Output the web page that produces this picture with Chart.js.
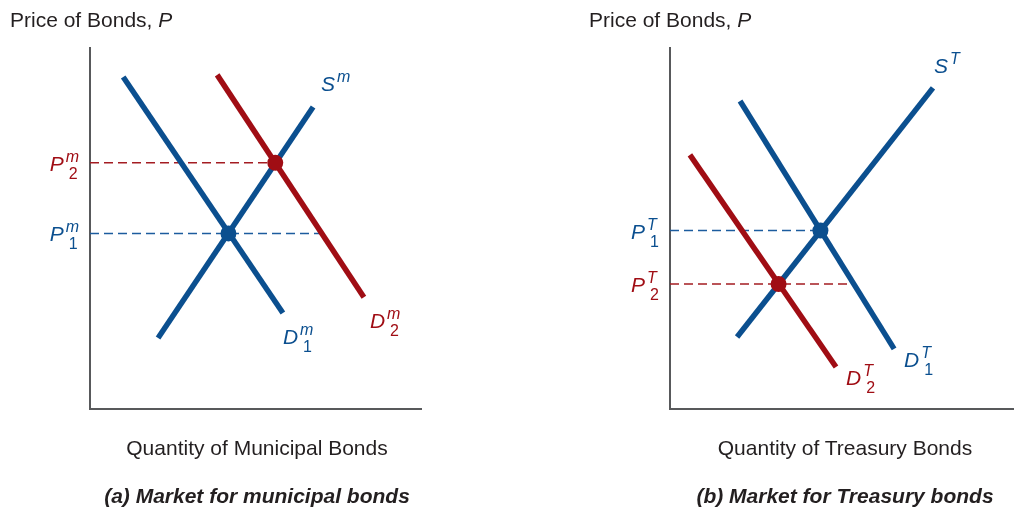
<!DOCTYPE html>
<html>
<head>
<meta charset="utf-8">
<script src="https://cdn.jsdelivr.net/npm/chart.js@4.4.1/dist/chart.umd.min.js"></script>
<style>
  html, body { margin: 0; padding: 0; background: #fff; }
  body { width: 1014px; height: 511px; position: relative; overflow: hidden;
         font-family: "Liberation Sans", Arial, sans-serif; color: #231f20; }
  canvas { position: absolute; top: 0; }
  .txt { position: absolute; font-size: 21px; line-height: 21px; white-space: nowrap; }
  .ctr { transform: translateX(-50%); }
  .cap { font-weight: bold; font-style: italic; }
</style>
</head>
<body>
<canvas id="graficoMuni" width="507" height="511" style="left:0"></canvas>
<canvas id="graficoTreas" width="507" height="511" style="left:507px"></canvas>

<div class="txt" style="left:10px; top:9px">Price of Bonds, <i>P</i></div>
<div class="txt" style="left:589px; top:9px">Price of Bonds, <i>P</i></div>
<div class="txt ctr" style="left:257px; top:437px">Quantity of Municipal Bonds</div>
<div class="txt ctr" style="left:845px; top:437px">Quantity of Treasury Bonds</div>
<div class="txt ctr cap" style="left:257px; top:485px">(a) Market for municipal bonds</div>
<div class="txt ctr cap" style="left:845px; top:485px">(b) Market for Treasury bonds</div>

<script>
// -------------------------
// Dados (quantidade q, preço p)
// -------------------------
// (a) Municipal
const muniD1Q = [1.0, 5.81];
const muniD1P = [9.17, 2.65];
const muniD2Q = [3.83, 8.25];
const muniD2P = [9.23, 3.09];
const muniSQ = [2.05, 6.72];
const muniSP = [1.96, 8.34];
const muniEqQ = [4.17, 5.58];      // ponto 1 (azul), ponto 2 (vermelho)
const muniEqP = [4.85, 6.80];
const muniDashEndQ = [6.95, 5.58]; // até onde vai a linha tracejada

// (b) Treasury
const treasD1Q = [2.11, 6.75];
const treasD1P = [8.51, 1.66];
const treasD2Q = [0.60, 5.00];
const treasD2P = [7.02, 1.16];
const treasSQ = [2.02, 7.92];
const treasSP = [1.99, 8.87];
const treasEqQ = [4.53, 3.27];
const treasEqP = [4.93, 3.45];
const treasDashEndQ = [4.53, 5.52];

const AZUL = "#0b4f8f";
const VERMELHO = "#a00d14";
const AZUL_TRAC = "#1c5c9e";
const VERMELHO_TRAC = "#a41c22";
const FONTE = '"Liberation Sans", Arial, sans-serif';

function juntar(qs, ps) {
  return qs.map((q, i) => ({ x: q, y: ps[i] }));
}

// -------------------------
// Rótulos tipo P^m_1 desenhados no canvas
// -------------------------
function desenharSimbolo(ctx, x, y, base, sup, sub, cor) {
  ctx.save();
  ctx.fillStyle = cor;
  ctx.textBaseline = "alphabetic";
  ctx.textAlign = "left";
  ctx.font = "italic 21px " + FONTE;
  ctx.fillText(base, x, y);
  const w = ctx.measureText(base).width;
  if (sup) {
    ctx.font = "italic 16px " + FONTE;
    ctx.fillText(sup, x + w + 2, y - 9);
  }
  if (sub) {
    ctx.font = "16px " + FONTE;
    ctx.fillText(sub, x + w + 5, y + 8);
  }
  ctx.restore();
}

function larguraSimbolo(ctx, base, sup, sub) {
  ctx.save();
  ctx.font = "italic 21px " + FONTE;
  const w = ctx.measureText(base).width;
  ctx.font = "italic 16px " + FONTE;
  const ws = sup ? ctx.measureText(sup).width + 2 : 0;
  ctx.font = "16px " + FONTE;
  const wb = sub ? ctx.measureText(sub).width + 5 : 0;
  ctx.restore();
  return w + Math.max(ws, wb);
}

const pluginRotulos = {
  id: "rotulos",
  afterDatasetsDraw(chart, args, opts) {
    const ctx = chart.ctx;
    const sx = chart.scales.x;
    const sy = chart.scales.y;
    // rótulos das curvas
    (opts.curvas || []).forEach(r => {
      desenharSimbolo(ctx, sx.getPixelForValue(r.q), sy.getPixelForValue(r.p),
        r.base, r.sup, r.sub, r.cor);
    });
    // rótulos dos preços no eixo vertical
    (opts.precos || []).forEach(r => {
      const w = larguraSimbolo(ctx, r.base, r.sup, r.sub);
      const x0 = sx.getPixelForValue(0) - 11 - w;
      desenharSimbolo(ctx, x0, sy.getPixelForValue(r.p) + 8, r.base, r.sup, r.sub, r.cor);
    });
  }
};

function linha(data, cor, largura, ordem, extra) {
  return Object.assign({
    data: data,
    showLine: true,
    borderColor: cor,
    backgroundColor: cor,
    borderWidth: largura,
    borderCapStyle: "butt",
    pointRadius: 0,
    pointHoverRadius: 0,
    clip: false,
    order: ordem
  }, extra || {});
}

function montarMercado(id, cfg) {
  const ctx = document.getElementById(id).getContext("2d");
  return new Chart(ctx, {
    type: "scatter",
    data: {
      datasets: [
        // pontos de equilíbrio
        linha([{ x: cfg.eqQ[0], y: cfg.eqP[0] }], AZUL, 0, 0,
          { showLine: false, pointRadius: 8, pointBorderWidth: 0 }),
        linha([{ x: cfg.eqQ[1], y: cfg.eqP[1] }], VERMELHO, 0, 0,
          { showLine: false, pointRadius: 8, pointBorderWidth: 0 }),
        // curvas
        linha(juntar(cfg.d2Q, cfg.d2P), VERMELHO, 5.5, 1),
        linha(juntar(cfg.sQ, cfg.sP), AZUL, 5.5, 2),
        linha(juntar(cfg.d1Q, cfg.d1P), AZUL, 5.5, 2),
        // tracejadas
        linha([{ x: 0, y: cfg.eqP[0] }, { x: cfg.dashQ[0], y: cfg.eqP[0] }], AZUL_TRAC, 1.5, 3,
          { borderDash: [9, 5] }),
        linha([{ x: 0, y: cfg.eqP[1] }, { x: cfg.dashQ[1], y: cfg.eqP[1] }], VERMELHO_TRAC, 1.5, 3,
          { borderDash: [9, 5] }),
        // eixos
        linha([{ x: 0, y: 10 }, { x: 0, y: 0 }, { x: cfg.xMax, y: 0 }], "#58595b", 2, 4,
          { borderJoinStyle: "miter" })
      ]
    },
    options: {
      responsive: false,
      animation: false,
      events: [],
      layout: { padding: cfg.padding, autoPadding: false },
      scales: {
        x: { type: "linear", min: 0, max: cfg.xMax, display: false },
        y: { type: "linear", min: 0, max: 10, display: false }
      },
      plugins: {
        legend: { display: false },
        tooltip: { enabled: false },
        rotulos: { curvas: cfg.curvas, precos: cfg.precos }
      }
    },
    plugins: [pluginRotulos]
  });
}

montarMercado("graficoMuni", {
  d1Q: muniD1Q, d1P: muniD1P, d2Q: muniD2Q, d2P: muniD2P,
  sQ: muniSQ, sP: muniSP, eqQ: muniEqQ, eqP: muniEqP, dashQ: muniDashEndQ,
  xMax: 10,
  padding: { left: 90, right: 85, top: 47, bottom: 102 },
  curvas: [
    { base: "S", sup: "m", q: 6.96, p: 8.78, cor: AZUL },
    { base: "D", sup: "m", sub: "1", q: 5.81, p: 1.79, cor: AZUL },
    { base: "D", sup: "m", sub: "2", q: 8.43, p: 2.24, cor: VERMELHO }
  ],
  precos: [
    { base: "P", sup: "m", sub: "1", p: muniEqP[0], cor: AZUL },
    { base: "P", sup: "m", sub: "2", p: muniEqP[1], cor: VERMELHO }
  ]
});

montarMercado("graficoTreas", {
  d1Q: treasD1Q, d1P: treasD1P, d2Q: treasD2Q, d2P: treasD2P,
  sQ: treasSQ, sP: treasSP, eqQ: treasEqQ, eqP: treasEqP, dashQ: treasDashEndQ,
  xMax: 10.36,
  padding: { left: 163, right: 0, top: 47, bottom: 102 },
  curvas: [
    { base: "S", sup: "T", q: 7.95, p: 9.28, cor: AZUL },
    { base: "D", sup: "T", sub: "1", q: 7.05, p: 1.16, cor: AZUL },
    { base: "D", sup: "T", sub: "2", q: 5.30, p: 0.66, cor: VERMELHO }
  ],
  precos: [
    { base: "P", sup: "T", sub: "1", p: treasEqP[0], cor: AZUL },
    { base: "P", sup: "T", sub: "2", p: treasEqP[1], cor: VERMELHO }
  ]
});
</script>
</body>
</html>
